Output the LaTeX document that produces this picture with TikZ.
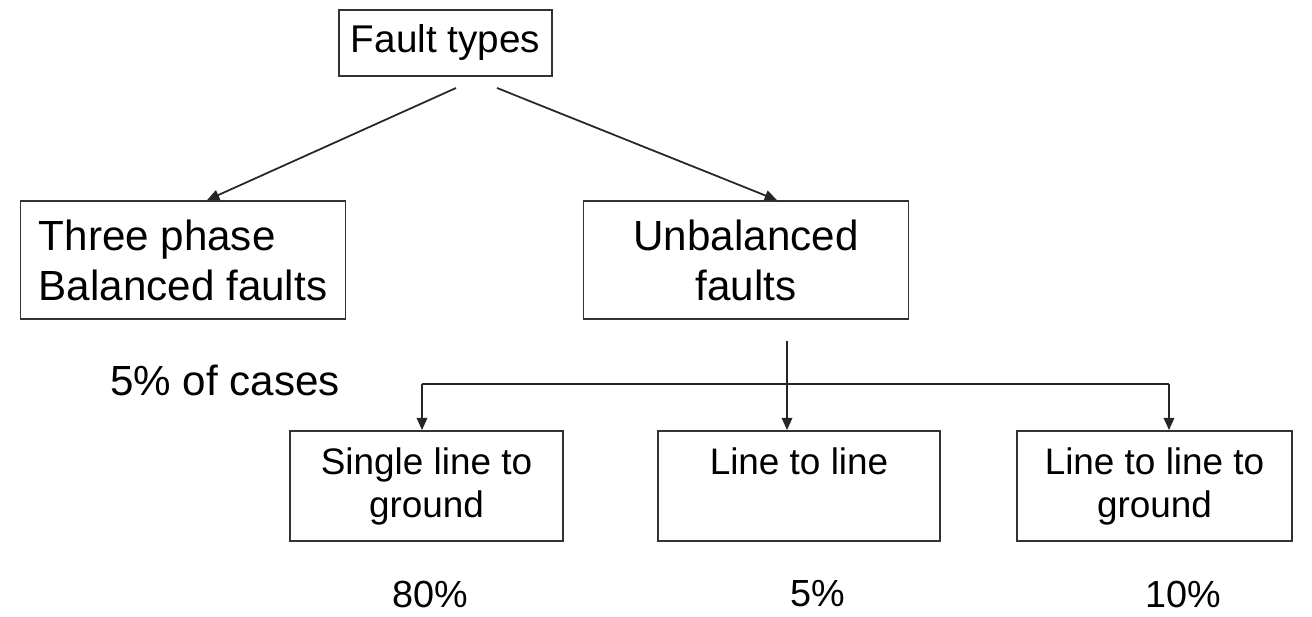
\documentclass[tikz,border=0pt]{standalone}
\usepackage{fontspec}
\setmainfont{Liberation Sans}
\usetikzlibrary{arrows.meta,calc}

\begin{document}
\begin{tikzpicture}[
    x=0.02cm, y=-0.02cm,
    % basic box style
    box/.style={draw=black!80, line width=1pt, inner sep=0pt, align=center,
        font=\fontsize{24}{28.5}\selectfont},
    % big boxes (second row)
    bigbox/.style={box, minimum width=6.5cm, minimum height=2.36cm},
    % small boxes (third row)
    smallbox/.style={box, minimum height=2.2cm, font=\fontsize{21}{24.5}\selectfont},
    % connectors
    arrow/.style={draw=black!85, line width=1pt, -{Triangle[length=7pt,width=6pt]}},
    link/.style={draw=black!85, line width=1pt},
    % free texts
    note/.style={font=\fontsize{24}{28.5}\selectfont},
    pct/.style={font=\fontsize{21.5}{26}\selectfont}
]

    % 0. frame of the picture
    \useasboundingbox (0,0) rectangle (1312,617);

    % 1. top box
    \node[box, minimum width=4.26cm, minimum height=1.32cm,
          font=\fontsize{22}{26}\selectfont] (types) at (445.5,43) {Fault types};

    % 2. second row
    \node[bigbox, align=left] (three) at (183,260) {Three phase\\Balanced faults};
    \node[bigbox] (unbal) at (746,260) {Unbalanced\\faults};
    \node[note] (cases) at (225,380) {5\% of cases};

    % 3. third row
    \node[smallbox, minimum width=5.46cm] (slg) at (426.5,486) {Single line to\\ground};
    \node[smallbox, minimum width=5.64cm] (ll)  at (799,486)   {Line to line\\\vphantom{ground}};
    \node[smallbox, minimum width=5.5cm]  (llg) at (1154.5,486) {Line to line to\\ground};

    % 4. percentages
    \node[pct] (pslg) at (430,594)  {80\%};
    \node[pct] (pll)  at (818,594)  {5\%};
    \node[pct] (pllg) at (1183,594) {10\%};

    % 5. connectors
    \coordinate (typesL) at (456,88);
    \coordinate (typesR) at (497,88);
    \draw[arrow] (typesL) -- ($(three.north)+(24,0)$);
    \draw[arrow] (typesR) -- ($(unbal.north)+(31,0)$);

    \coordinate (split) at (787,341);
    \coordinate (barL) at (422,384);
    \coordinate (barR) at (1169,384);
    \draw[arrow] (split) -- (split |- ll.north);
    \draw[link] (barL) -- (barR);
    \draw[arrow] (barL) -- (barL |- slg.north);
    \draw[arrow] (barR) -- (barR |- llg.north);

\end{tikzpicture}
\end{document}
